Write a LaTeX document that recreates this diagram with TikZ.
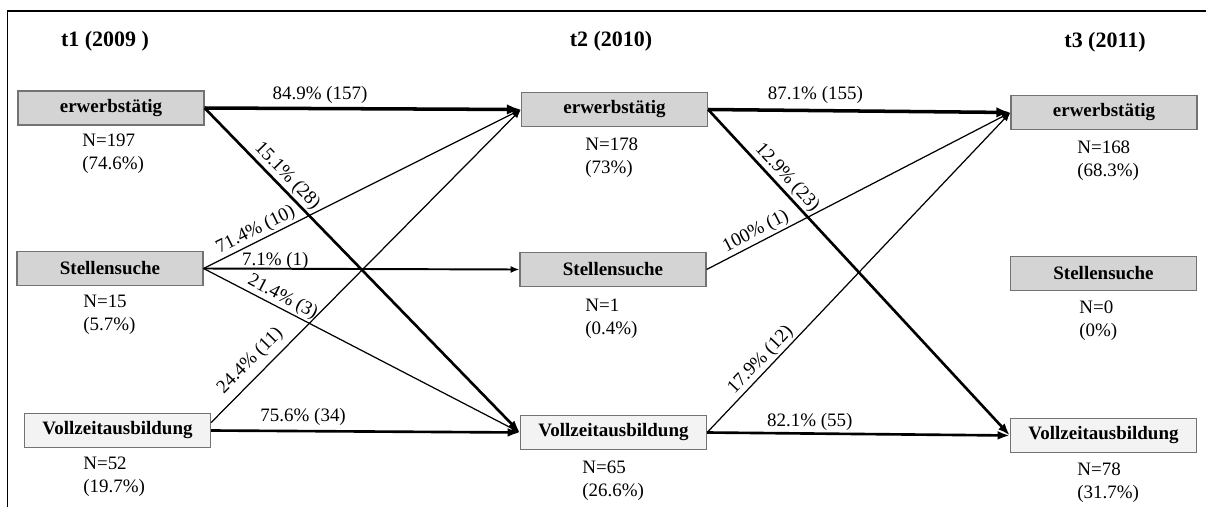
\documentclass[tikz,border=0pt]{standalone}
\usepackage{fontspec}
\setmainfont{Liberation Serif}
\usetikzlibrary{arrows.meta}
\definecolor{boxline}{RGB}{115,115,115}
\definecolor{boxgray}{RGB}{212,212,212}
\definecolor{boxlight}{RGB}{243,243,243}
\begin{document}
\begin{tikzpicture}[x=0.02cm,y=-0.02cm,
  box/.style={draw=boxline, line width=0.7pt, minimum width=3.72cm, minimum height=0.68cm, inner sep=0pt, font=\bfseries\fontsize{10.8}{13}\selectfont},
  boxg/.style={box, fill=boxgray},
  boxl/.style={box, fill=boxlight},
  ttl/.style={font=\bfseries\fontsize{12.5}{15}\selectfont, inner sep=0pt},
  cnt/.style={anchor=west, align=left, inner sep=0pt, font=\fontsize{10.8}{13}\selectfont},
  lbl/.style={font=\fontsize{10.8}{13}\selectfont, inner sep=1pt},
  f1/.style={-{Latex[length=5pt,width=4pt]}, line width=0.7pt},
  f2/.style={-{Latex[length=5pt,width=4pt]}, line width=1.1pt},
  f3/.style={-{Latex[length=7pt,width=5pt]}, line width=1.5pt},
  f4/.style={-{Latex[length=8pt,width=6pt]}, line width=2pt}
]
\useasboundingbox (0,0) rectangle (1206,507);
% frame
\draw[line width=1.1pt] (7.5,507) -- (7.5,11) -- (1206,11);
% titles
\node[ttl] (t1) at (105,41) {t1 (2009 )};
\node[ttl] (t2) at (611,41) {t2 (2010)};
\node[ttl] (t3) at (1105,42) {t3 (2011)};
% boxes
\node[boxg] (e1) at (111,108) {erwerbstätig};
\node[boxg] (S1) at (110,268.5) {Stellensuche};
\node[boxl] (V1) at (117.5,430.5) {Vollzeitausbildung};
\node[boxg] (e2) at (614.5,109.5) {erwerbstätig};
\node[boxg] (S2) at (613,269.5) {Stellensuche};
\node[boxl] (V2) at (613.5,432.5) {Vollzeitausbildung};
\node[boxg] (e3) at (1104,112.5) {erwerbstätig};
\node[boxg] (S3) at (1103.5,273.5) {Stellensuche};
\node[boxl] (V3) at (1103.5,435.5) {Vollzeitausbildung};
% counts
\node[cnt] (n1) at (82,154) {N=197\\(74.6\%)};
\node[cnt] (n2) at (83,314.5) {N=15\\(5.7\%)};
\node[cnt] (n3) at (83,476.5) {N=52\\(19.7\%)};
\node[cnt] (n4) at (585,158) {N=178\\(73\%)};
\node[cnt] (n5) at (585,319) {N=1\\(0.4\%)};
\node[cnt] (n6) at (582,481) {N=65\\(26.6\%)};
\node[cnt] (n7) at (1077,161) {N=168\\(68.3\%)};
\node[cnt] (n8) at (1079,321) {N=0\\(0\%)};
\node[cnt] (n9) at (1077,483) {N=78\\(31.7\%)};
% flows t1 -> t2
\draw[f4] (e1.east) -- node[lbl, pos=0.365, above=1pt] {84.9\% (157)} (e2.west);
\draw[f3] (e1.east) -- node[lbl, pos=0.235, sloped, above] {15.1\% (28)} (V2.west);
\draw[f1] (S1.east) -- node[lbl, pos=0.18, sloped, above] {71.4\% (10)} (e2.west);
\draw[f2] (S1.east) -- node[lbl, pos=0.227, above=-2pt] {7.1\% (1)} (S2.west);
\draw[f1] (S1.east) -- node[lbl, pos=0.234, sloped, above] {21.4\% (3)} (V2.west);
\draw[f1] ([yshift=4.5pt]V1.east) -- node[lbl, pos=0.162, sloped, above=2.5pt] {24.4\% (11)} (e2.west);
\draw[f3] (V1.east) -- node[lbl, pos=0.298, above=1.5pt] {75.6\% (34)} (V2.west);
% flows t2 -> t3
\draw[f4] (e2.east) -- node[lbl, pos=0.355, above=2pt] {87.1\% (155)} (e3.west);
\draw[f3] (e2.east) -- node[lbl, pos=0.233, sloped, above] {12.9\% (23)} (V3.west);
\draw[f1] (S2.east) -- node[lbl, pos=0.179, sloped, above] {100\% (1)} (e3.west);
\draw[f1] (V2.east) -- node[lbl, pos=0.203, sloped, above] {17.9\% (12)} (e3.west);
\draw[f3] (V2.east) -- node[lbl, pos=0.339, above] {82.1\% (55)} (V3.west);
\end{tikzpicture}
\end{document}
